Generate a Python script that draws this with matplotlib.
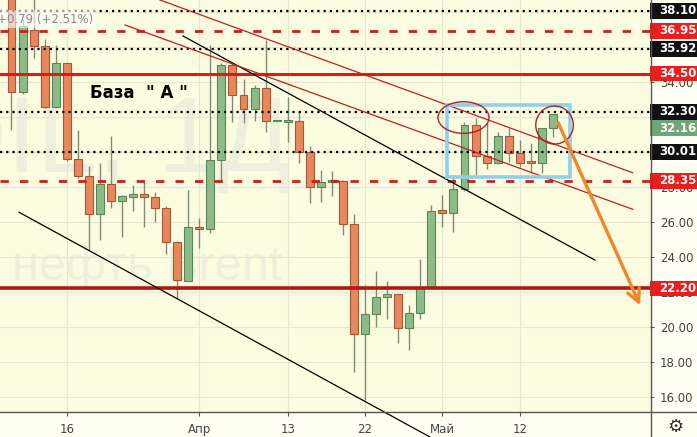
import numpy as np
import matplotlib.pyplot as plt
from matplotlib.patches import Rectangle, Ellipse

plt.rcParams['font.family'] = ['DejaVu Sans']

# ============================================================
# Данные: дневные свечи UKOIL (индекс 0 = 16 марта)
# ============================================================
FIRST_IDX = -5
opens = [39.50, 33.42, 37.00, 36.06, 32.60, 35.08, 29.59, 28.63, 26.44, 28.16,
         27.18, 27.45, 27.59, 27.41, 26.78, 24.87, 22.64, 25.74, 25.60, 29.55,
         34.99, 33.27, 32.45, 33.65, 31.78, 31.74, 31.80, 30.02, 27.99, 28.27,
         28.35, 25.87, 19.57, 20.72, 21.69, 21.86, 19.95, 20.77, 22.30, 26.66,
         26.50, 27.87, 31.55, 29.80, 29.36, 30.94, 29.93, 29.44, 29.36, 31.36]
highs = [40.50, 37.60, 39.00, 36.47, 36.13, 35.12, 31.27, 29.22, 29.39, 30.92,
         27.55, 28.12, 28.27, 27.70, 26.92, 24.90, 27.83, 26.24, 36.13, 35.08,
         35.10, 34.17, 33.84, 36.42, 31.80, 33.17, 32.31, 30.35, 28.98, 28.94,
         28.40, 26.44, 22.39, 23.20, 22.62, 21.90, 21.25, 23.88, 26.97, 27.55,
         28.59, 31.74, 31.94, 31.65, 31.17, 31.36, 30.69, 30.54, 31.40, 32.20]
lows = [31.27, 33.35, 35.37, 32.51, 32.51, 29.51, 28.50, 24.40, 24.97, 26.78,
        25.12, 26.65, 25.73, 26.02, 24.15, 21.65, 22.60, 24.54, 25.39, 28.31,
        31.74, 31.68, 31.80, 31.17, 31.78, 30.60, 29.36, 27.10, 27.16, 27.51,
        25.26, 17.43, 15.81, 20.01, 20.43, 19.06, 18.67, 20.43, 22.25, 25.73,
        25.44, 27.80, 28.69, 29.03, 29.30, 29.45, 29.17, 28.79, 28.82, 30.88]
closes = [33.42, 37.22, 36.06, 32.60, 35.08, 29.59, 28.63, 26.44, 28.16, 27.20,
          27.47, 27.59, 27.41, 26.78, 24.87, 22.66, 25.74, 25.62, 29.55, 34.99,
          33.27, 32.45, 33.65, 31.78, 31.80, 31.84, 30.02, 27.99, 28.27, 28.39,
          25.87, 19.57, 20.72, 21.69, 21.86, 19.95, 20.77, 22.30, 26.65, 26.50,
          27.87, 31.55, 29.80, 29.36, 30.94, 29.93, 29.39, 29.40, 31.36, 32.16]

date_ticks = [0, 12, 20, 27, 34, 41]
date_labels = ['16', 'Апр', '13', '22', 'Май', '12']
price_ticks = [16, 18, 20, 22, 24, 26, 28, 30, 32, 34, 36, 38]

dotted_levels = [38.10, 35.92, 32.30, 30.01]
dashed_levels = [36.95, 28.35]
resist_level = 34.50
support_level = 22.20
last_price = 32.16

# правые метки: (значение, позиция по цене, цвет фона)
price_tags = [(38.10, 38.10, '#111111'), (36.95, 36.95, '#ee1c1c'),
              (35.92, 35.92, '#111111'), (34.50, 34.50, '#ee1c1c'),
              (32.30, 32.30, '#111111'), (32.16, 31.38, '#6ea679'),
              (30.01, 30.01, '#111111'), (28.35, 28.35, '#ee1c1c'),
              (22.20, 22.20, '#ee1c1c')]

# трендовые линии: (i0, p0, i1, p1)
black_upper = (10.52, 36.65, 47.81, 23.82)
black_lower = (-4.32, 26.56, 32.88, 13.69)
red_upper = (8.44, 38.71, 51.22, 28.82)
red_lower = (5.28, 37.28, 51.22, 26.73)

flag_box = (34.44, 28.59, 45.55, 32.70)
circles = [(35.91, 31.98, 4.62, 1.81), (44.15, 31.55, 3.40, 2.18)]
arrow_from = (44.37, 31.84)
arrow_to = (52.0, 21.08)

# ============================================================
# Рисунок
# ============================================================
W, H = 697, 437
fig = plt.figure(figsize=(W / 100, H / 100), dpi=100, facecolor='#fffff4')
ax = fig.add_axes([0, 1 - 411.7 / H, 650 / W, 411.7 / H])
ax.set_facecolor('#fcfce1')
ax.set_xlim(-6.04, 52.79)
ax.set_ylim(15.14, 38.71)

# водяной знак
ax.text(0.447, 0.65, 'UKOIL, 1Д', transform=ax.transAxes, ha='right', va='center',
        fontsize=78, color='#efefdd', family='Liberation Sans', zorder=0.5)
ax.text(0.435, 0.35, 'нефть Brent', transform=ax.transAxes, ha='right', va='center',
        fontsize=35, color='#efefdd', family='Liberation Sans', zorder=0.5)

# сетка
ax.set_yticks(price_ticks)
ax.set_yticklabels([f'{p:.2f}' for p in price_ticks])
ax.set_xticks(date_ticks)
ax.set_xticklabels(date_labels)
ax.grid(True, color='#e7e7cf', lw=0.8, zorder=0)
ax.set_axisbelow(True)
ax.yaxis.tick_right()
ax.tick_params(axis='y', length=3, color='#555555', labelcolor='#444444', labelsize=8.5, pad=4)
ax.tick_params(axis='x', length=3, color='#555555', labelcolor='#444444', labelsize=8.5, pad=5)
for s in ax.spines.values():
    s.set_visible(False)

# свечи
idx = np.arange(FIRST_IDX, FIRST_IDX + len(opens))
for i, o, h, l, c in zip(idx, opens, highs, lows, closes):
    up = c >= o
    ax.vlines(i, l, h, color='#7f8c7a', lw=1, zorder=2)
    body = max(abs(c - o), 0.07)
    ax.bar(i, body, bottom=min(o, c), width=0.72,
           color='#8dbb88' if up else '#e8875b',
           edgecolor='#5b865a' if up else '#a3583a', lw=0.8, zorder=3)

# горизонтальные уровни
for y in dotted_levels:
    ax.axhline(y, color='black', lw=1.6, ls=(0, (1, 1.8)), zorder=4)
for y in dashed_levels:
    ax.axhline(y, color='#cc1f1a', lw=2, ls=(0, (3, 4)), zorder=4)
ax.axhline(resist_level, color='#e01a1a', lw=2.2, zorder=4)
ax.axhline(support_level, color='#b01818', lw=2.6, zorder=4)

# трендовые линии
for (x0, y0, x1, y1), col, lw in [(black_upper, 'black', 0.9), (black_lower, 'black', 0.9),
                                  (red_upper, '#c41e1e', 0.9), (red_lower, '#c41e1e', 0.9)]:
    ax.plot([x0, x1], [y0, y1], color=col, lw=lw, zorder=5, clip_on=False)

# флаг и окружности
bx0, by0, bx1, by1 = flag_box
ax.add_patch(Rectangle((bx0, by0), bx1 - bx0, by1 - by0, fill=False,
                       edgecolor='#8fd0ea', lw=2.6, zorder=6))
for cx, cy, w, h in circles:
    ax.add_patch(Ellipse((cx, cy), w, h, fill=False, edgecolor='#b51e24', lw=1, zorder=6))

ax.annotate('', xy=arrow_to, xytext=arrow_from, annotation_clip=False,
            arrowprops=dict(arrowstyle='->,head_length=0.9,head_width=0.45',
                            color='#f2862a', lw=2.4), zorder=7)

ax.text(2.11, 33.38, 'База  " А "', fontsize=12, fontweight='bold', color='black',
        ha='left', va='center', zorder=7)

# метки цены справа
trans = ax.get_yaxis_transform()
for val, pos, col in price_tags:
    ax.add_patch(Rectangle((1.0, pos - 0.45), 47 / 650, 0.90, transform=trans,
                           clip_on=False, facecolor=col, edgecolor='none', zorder=8))
    ax.text(1.0 + 9 / 650, pos, f'{val:.2f}', transform=trans, color='white',
            fontsize=8.5, fontweight='bold', ha='left', va='center', clip_on=False, zorder=9)

# рамки шкал
fig.add_artist(plt.Line2D([0, 1], [1 - 411.7 / H] * 2, color='#555555', lw=1))
fig.add_artist(plt.Line2D([650.5 / W] * 2, [0, 1], color='#555555', lw=1))

fig.text(93 / W, 1 - 19 / H, '32.16  +0.79 (+2.51%)', ha='right', va='center',
         color='#8a8a8a', fontsize=8.5,
         bbox=dict(facecolor='white', alpha=0.6, edgecolor='none', pad=2))
fig.text(675 / W, 1 - 427 / H, '⚙', ha='center', va='center', fontsize=13, color='#333333')

fig.savefig('out.png', dpi=100, facecolor=fig.get_facecolor())
